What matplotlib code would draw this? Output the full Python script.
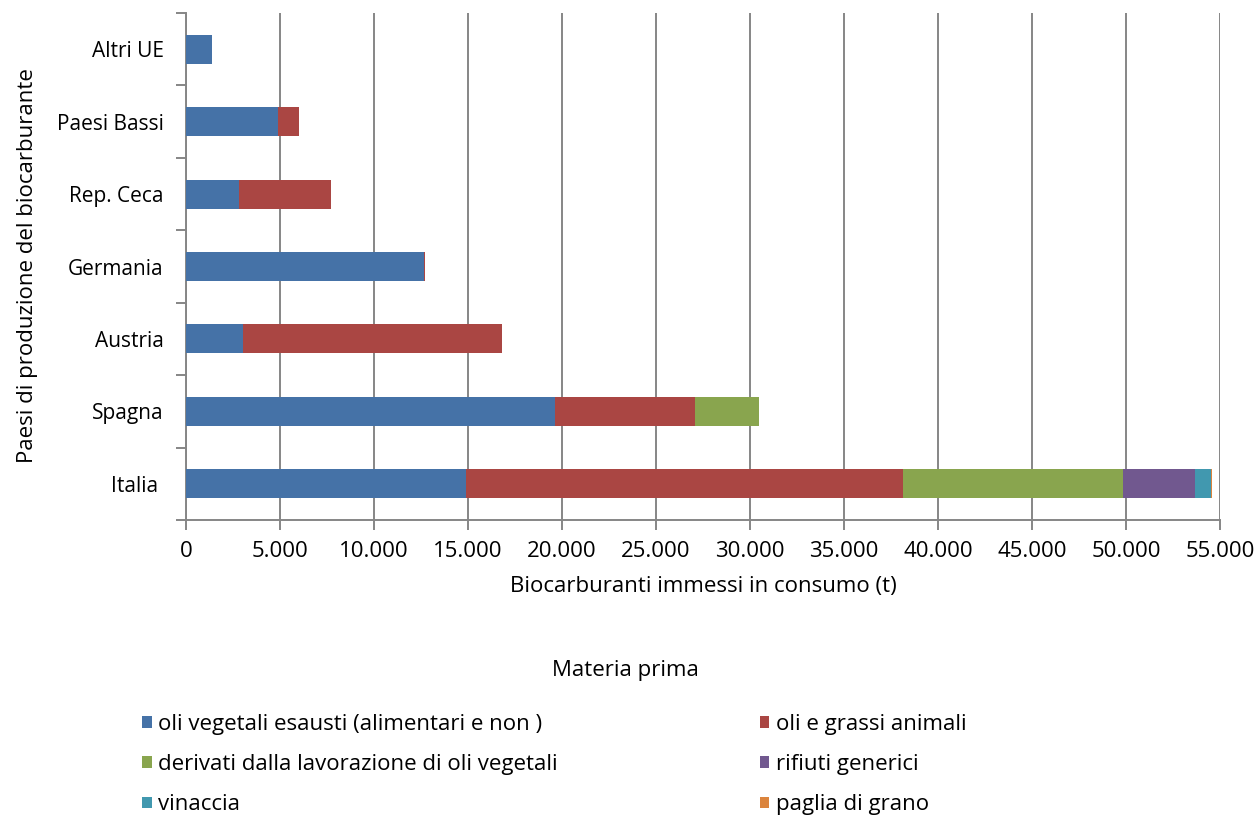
import matplotlib
matplotlib.use('Agg')
import matplotlib.pyplot as plt
from matplotlib.patches import Patch
from matplotlib.ticker import FixedLocator, FuncFormatter
import numpy as np

plt.rcParams['font.family'] = ['Open Sans', 'DejaVu Sans']

# Paesi (dal basso verso l'alto) e tonnellate per materia prima
paesi = ['Italia ', 'Spagna', 'Austria', 'Germania', 'Rep. Ceca', 'Paesi Bassi', 'Altri UE']
oli_vegetali_esausti = [14880, 19640, 3050, 12680, 2840, 4910, 1400]
oli_grassi_animali = [23280, 7450, 13780, 30, 4870, 1120, 0]
derivati_oli_vegetali = [11700, 3390, 0, 0, 0, 0, 0]
rifiuti_generici = [3810, 0, 0, 0, 0, 0, 0]
vinaccia = [850, 0, 0, 0, 0, 0, 0]
paglia_di_grano = [60, 0, 0, 0, 0, 0, 0]

serie = [
    ('oli vegetali esausti (alimentari e non )', oli_vegetali_esausti, '#4572A7'),
    ('oli e grassi animali', oli_grassi_animali, '#AA4643'),
    ('derivati dalla lavorazione di oli vegetali', derivati_oli_vegetali, '#89A54E'),
    ('rifiuti generici', rifiuti_generici, '#71588F'),
    ('vinaccia', vinaccia, '#4198AF'),
    ('paglia di grano', paglia_di_grano, '#DB843D'),
]

fig = plt.figure(figsize=(12.59, 8.16), dpi=100)
ax = fig.add_axes([0.1477, 0.3627, 0.8213, 0.6213])

y = np.arange(len(paesi))
left = np.zeros(len(paesi))
handles = []
for nome, valori, colore in serie:
    v = np.array(valori, dtype=float)
    ax.barh(y, v, left=left, height=0.4, color=colore, zorder=3)
    left += v
    handles.append(Patch(facecolor=colore, edgecolor='none', label=nome))

grid_col = '#868686'
ax.set_xlim(0, 55000)
ax.set_ylim(-0.5, len(paesi) - 0.5)
ax.set_xticks(np.arange(0, 55001, 5000))
ax.xaxis.set_major_formatter(FuncFormatter(lambda v, p: f'{int(v):,}'.replace(',', '.')))
ax.xaxis.grid(True, color=grid_col, lw=1.4, zorder=0)

ax.set_yticks(y)
ax.set_yticklabels(paesi)
ax.yaxis.set_minor_locator(FixedLocator(np.arange(-0.5, len(paesi), 1.0)))
ax.tick_params(axis='y', which='major', length=0, pad=16, labelsize=15, colors='#000000')
ax.tick_params(axis='y', which='minor', length=7, width=1.4, color=grid_col)
ax.tick_params(axis='x', length=7, width=1.4, color=grid_col, labelsize=16, pad=8,
               labelcolor='#000000')

for s in ['top', 'right']:
    ax.spines[s].set_visible(False)
for s in ['left', 'bottom']:
    ax.spines[s].set_color(grid_col)
    ax.spines[s].set_linewidth(1.4)

ax.set_xlabel('Biocarburanti immessi in consumo (t)', fontsize=16, labelpad=10)
fig.text(28 / 1259, 1 - 266 / 816, 'Paesi di produzione del biocarburante',
         rotation=90, ha='center', va='center', fontsize=16)

fig.text(0.497, 0.178, 'Materia prima', ha='center', va='center', fontsize=16)

# ordine per colonne: la legenda riempie prima la colonna sinistra
ordine = [0, 2, 4, 1, 3, 5]
fig.legend([handles[i] for i in ordine], [handles[i].get_label() for i in ordine],
           ncol=2, loc='upper left', bbox_to_anchor=(0.113, 0.125), frameon=False,
           fontsize=16, handlelength=0.42, handleheight=0.42, handletextpad=0.3,
           labelspacing=0.86, columnspacing=9.1, borderpad=0, borderaxespad=0)

fig.savefig('out.png', dpi=100)
